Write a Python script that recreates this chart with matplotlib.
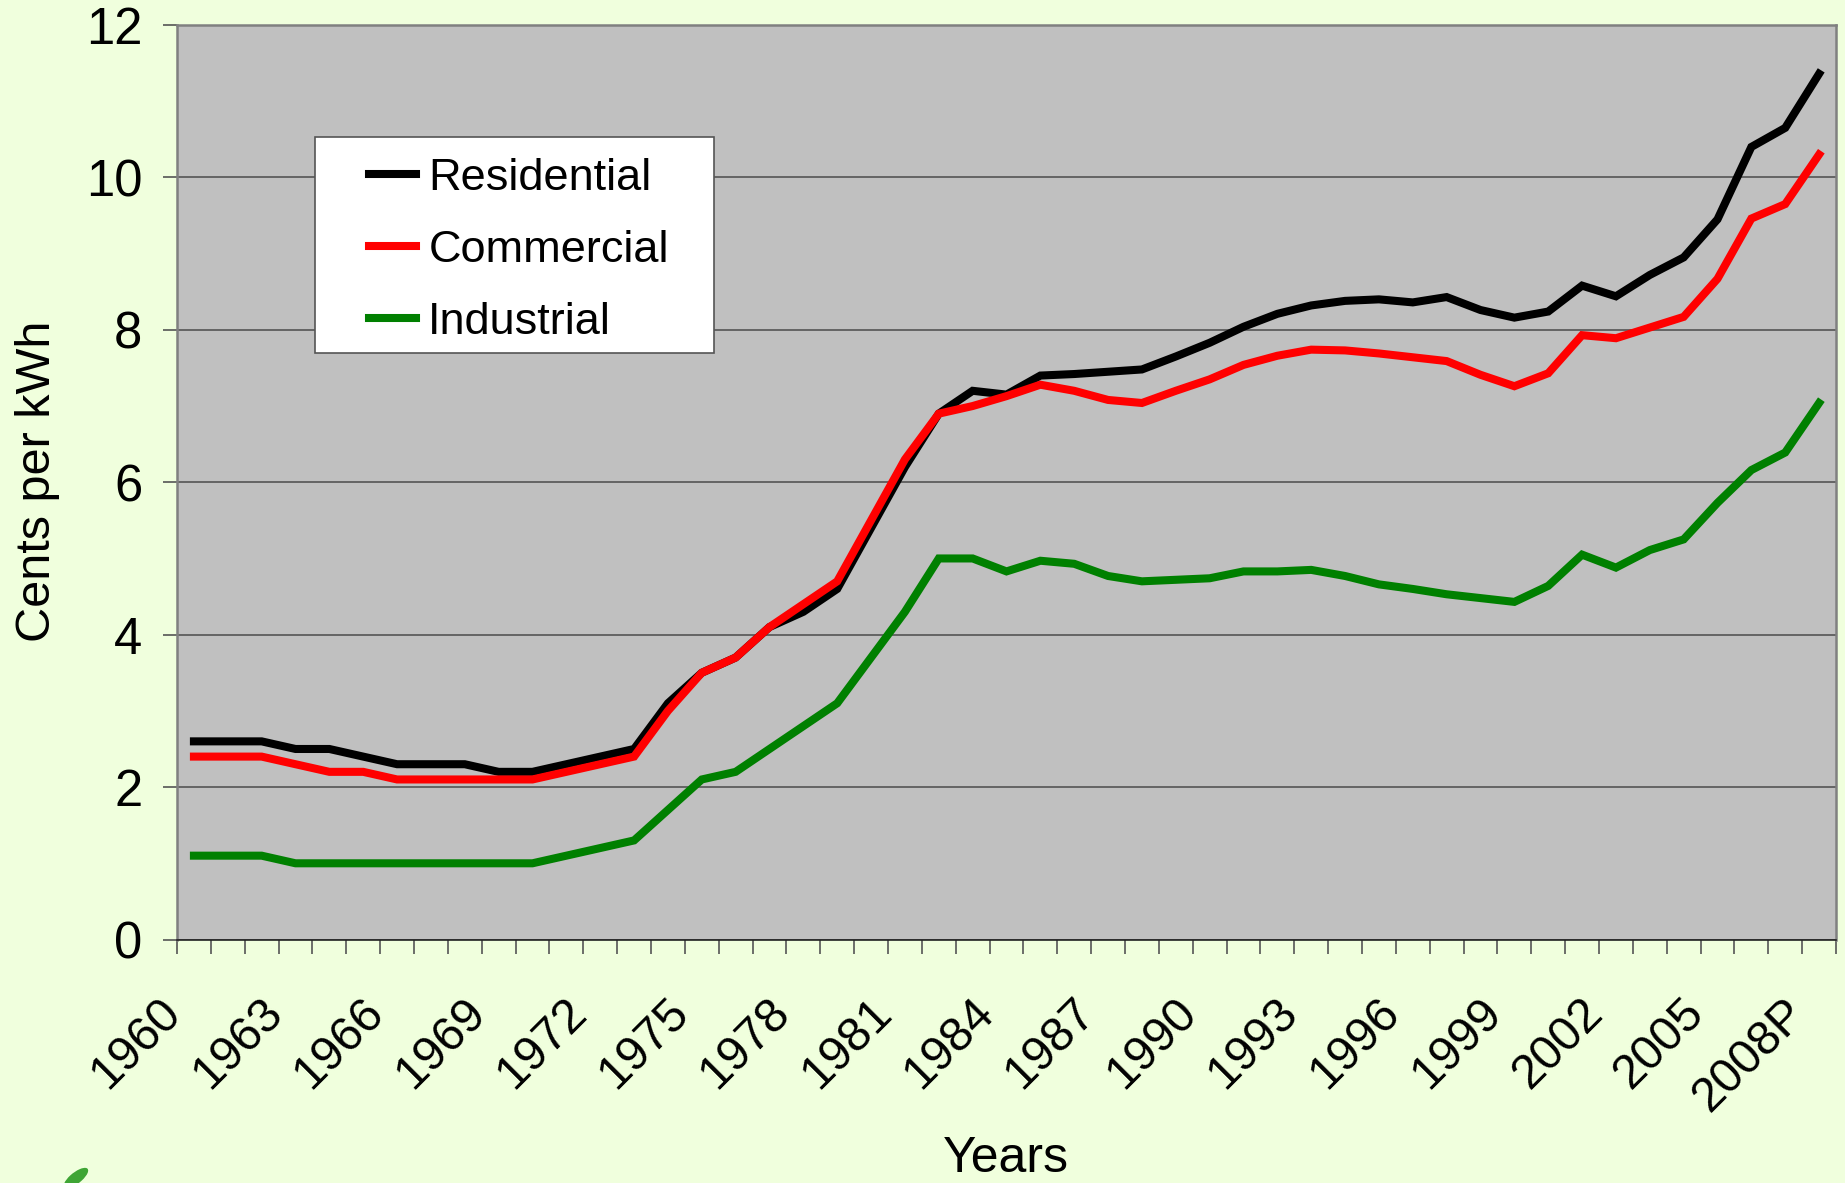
import matplotlib
matplotlib.use("Agg")
import matplotlib.pyplot as plt
from matplotlib.patches import Ellipse, Rectangle
from matplotlib.transforms import ScaledTranslation

years = list(range(1960, 2009))
residential = [2.6,2.6,2.6,2.5,2.5,2.4,2.3,2.3,2.3,2.2,2.2,2.3,2.4,2.5,3.1,3.5,3.7,4.1,4.3,4.6,5.4,6.2,6.9,7.2,7.15,7.4,7.42,7.45,7.48,7.65,7.83,8.04,8.21,8.32,8.38,8.40,8.36,8.43,8.26,8.16,8.24,8.58,8.44,8.72,8.95,9.45,10.40,10.65,11.36]
commercial = [2.4,2.4,2.4,2.3,2.2,2.2,2.1,2.1,2.1,2.1,2.1,2.2,2.3,2.4,3.0,3.5,3.7,4.1,4.4,4.7,5.5,6.3,6.9,7.0,7.13,7.28,7.2,7.08,7.04,7.2,7.35,7.54,7.66,7.74,7.73,7.69,7.64,7.59,7.41,7.26,7.43,7.93,7.89,8.03,8.17,8.67,9.46,9.65,10.3]
industrial = [1.1,1.1,1.1,1.0,1.0,1.0,1.0,1.0,1.0,1.0,1.0,1.1,1.2,1.3,1.7,2.1,2.2,2.5,2.8,3.1,3.7,4.3,5.0,5.0,4.83,4.97,4.93,4.77,4.70,4.72,4.74,4.83,4.83,4.85,4.77,4.66,4.60,4.53,4.48,4.43,4.64,5.05,4.88,5.11,5.25,5.73,6.16,6.39,7.04]
labels = [str(y) if y != 2008 else "2008P" for y in years]
yticks = [0, 2, 4, 6, 8, 10, 12]

W, H = 1845, 1183
BG = "#F0FFDD"
plt.rcParams["font.family"] = ["Liberation Sans", "DejaVu Sans"]
fig = plt.figure(figsize=(W/100, H/100), dpi=100, facecolor=BG)
L, R, T, B = 177, 1836, 25, 939.5
ax = fig.add_axes([L/W, 1-B/H, (R-L)/W, (B-T)/H], facecolor="#C0C0C0")

xpos = [i + 0.5 for i in range(len(years))]
for vals, col, name in [(residential, "black", "Residential"),
                        (commercial, "#FF0000", "Commercial"),
                        (industrial, "#008000", "Industrial")]:
    ax.plot(xpos, vals, color=col, lw=5.8, label=name, solid_joinstyle="miter",
            solid_capstyle="projecting", zorder=3)

ax.set_xlim(0, len(years))
ax.set_ylim(0, 12)
ax.set_yticks(yticks)
ax.grid(axis="y", color="#555555", lw=1.2, zorder=1)
ax.set_axisbelow(True)
ax.tick_params(axis="y", labelsize=36.5, length=10, width=1.2, color="#555555", pad=15)
ax.set_xticks(range(len(years)+1))
ax.set_xticklabels([])
ax.set_xticks(xpos[::3], labels[::3], minor=True)
ax.tick_params(axis="x", which="major", length=10, width=1.2, color="#555555")
ax.tick_params(axis="x", which="minor", length=0, labelsize=34.5, pad=48)
shift = ScaledTranslation(-20/100, 0, fig.dpi_scale_trans)
for t in ax.get_xticklabels(minor=True):
    t.set_rotation(45); t.set_ha("right"); t.set_rotation_mode("anchor"); t.set_va("center")
    t.set_transform(t.get_transform() + shift)

for s in ["left", "top", "right"]:
    ax.spines[s].set_color("#808080"); ax.spines[s].set_linewidth(1.8)
ax.spines["bottom"].set_color("#222222"); ax.spines["bottom"].set_linewidth(1.2)

fig.text(38/W, 1-481/H, "Cents per kWh", rotation=90, fontsize=35, ha="center", va="center")
fig.text(1006/W, 1-1159/H, "Years", fontsize=36, ha="center", va="center")

# legend frame is drawn separately because its side padding exceeds its top padding
ax.add_patch(Rectangle((315/W, 1-353/H), 399/W, 216/H, transform=fig.transFigure,
                       facecolor="white", edgecolor="#555555", lw=1.2, zorder=4))
leg = ax.legend(loc="upper left", bbox_to_anchor=(369/W, 1-158/H), bbox_transform=fig.transFigure,
                borderaxespad=0, fontsize=32.5, frameon=False, handlelength=1.05, handletextpad=0.265,
                labelspacing=0.685, borderpad=0)
leg.set_zorder(5)

# small leaf ornament clipped by the lower page edge
fig.add_artist(Ellipse((76/W, 1-1178/H), 14/W, 24/H, angle=-35, transform=fig.transFigure,
                       facecolor="#3FA535", edgecolor="none"))

fig.savefig("out.png", dpi=100, facecolor=BG)
